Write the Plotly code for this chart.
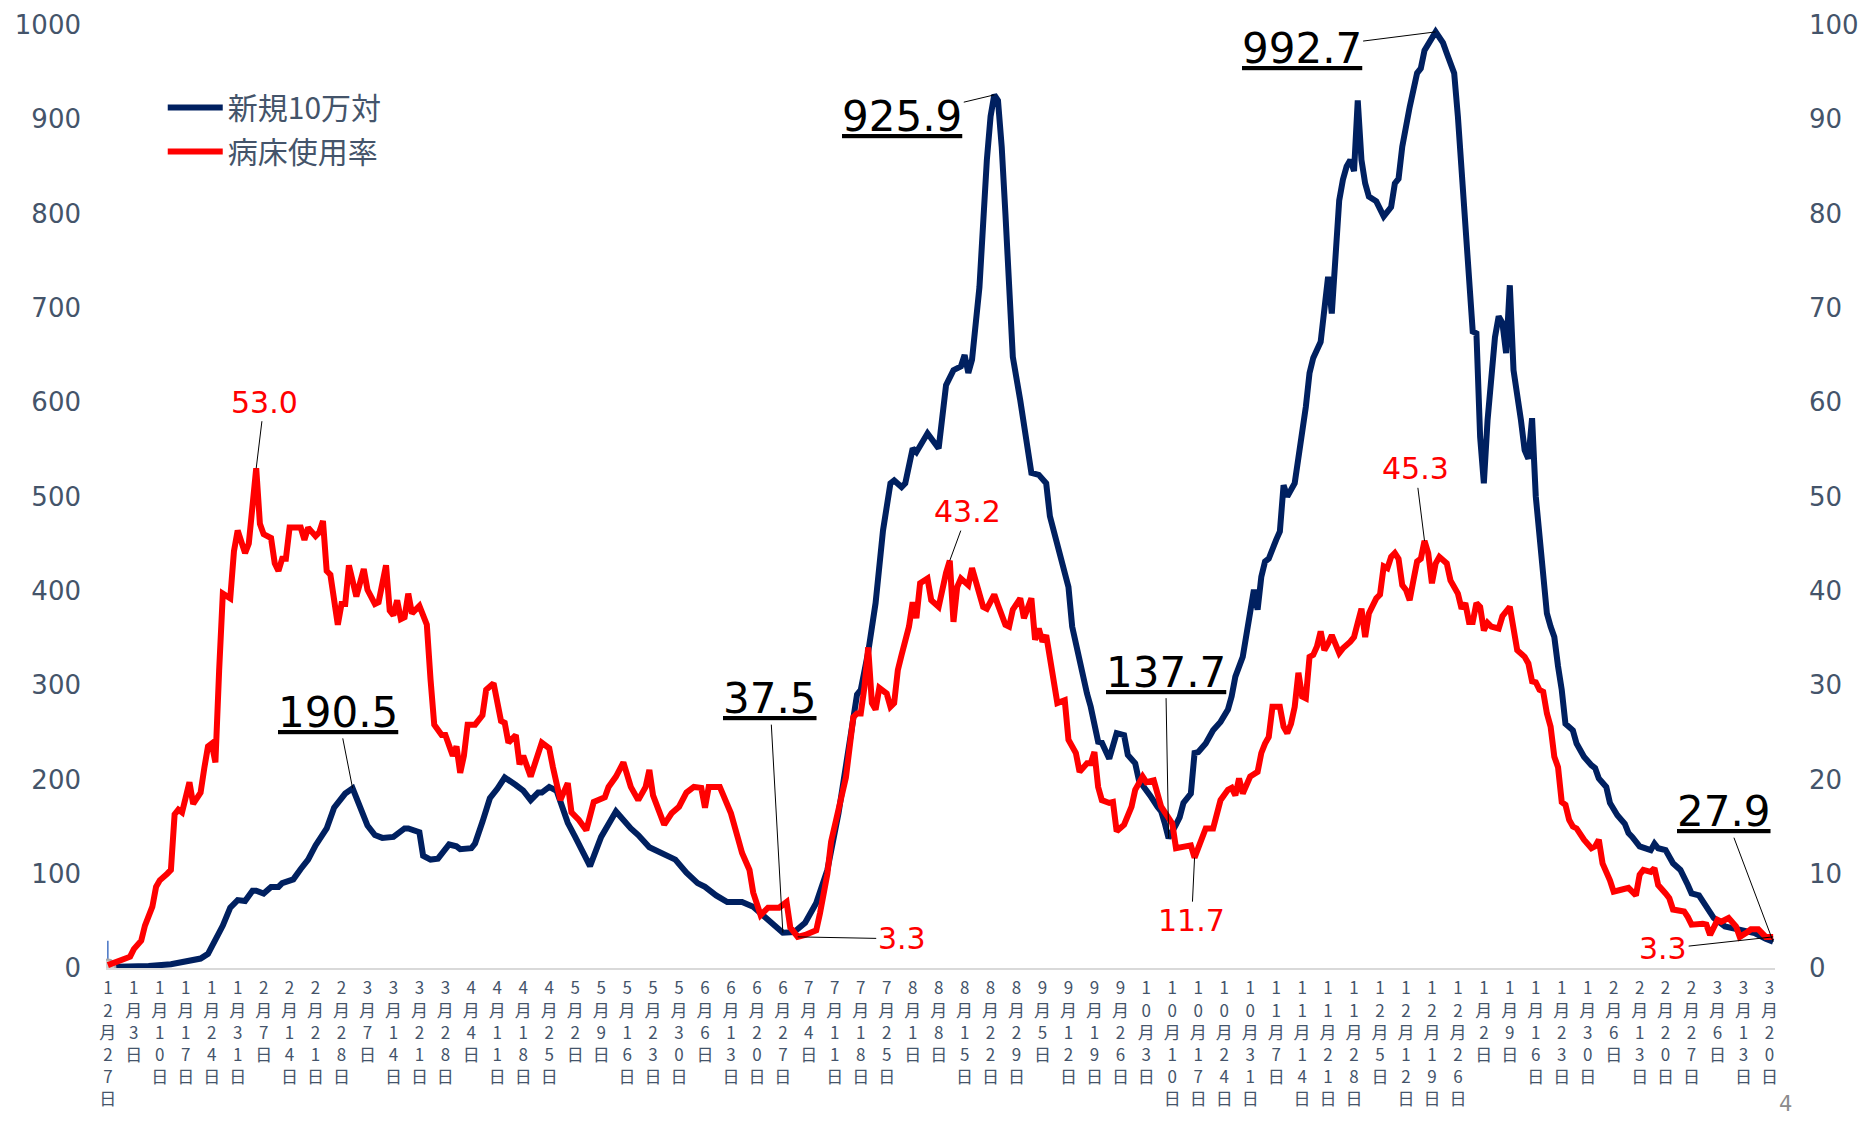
import plotly.graph_objects as go
import pandas as pd

START_DATE = "2021-12-27"

# 新規10万対 (left axis): day offset from START_DATE, value
navy_day = [0, 7, 11, 17, 21, 25, 27, 29, 31, 33, 35, 37, 39, 40, 42, 44, 46, 47, 50, 52,
            54, 56, 58, 59, 61, 64, 66, 68, 70, 72, 74, 77, 80, 81, 84, 85, 87, 89, 90, 92,
            94, 95, 98, 99, 101, 103, 105, 107, 110, 112, 114, 116, 117, 119, 121, 124, 126, 130, 133, 137,
            141, 143, 146, 149, 153, 156, 159, 161, 164, 167, 171, 174, 178, 182, 185, 188, 191, 194, 197, 200,
            202, 203, 205, 207, 208, 209, 211, 212, 214, 215, 217, 218, 221, 224, 226, 227, 228, 230, 231, 232,
            233, 235, 236, 237, 238, 239, 240, 241, 242, 243, 244, 246, 248, 249, 251, 253, 254, 256, 257, 259,
            260, 262, 264, 265, 266, 267, 268, 270, 272, 274, 275, 277, 278, 280, 281, 283, 284, 285, 286, 288,
            289, 290, 292, 293, 294, 296, 298, 300, 302, 303, 304, 306, 307, 308, 309, 310, 311, 312, 313, 315,
            316, 317, 318, 320, 322, 323, 324, 325, 327, 328, 329, 330, 331, 332, 333, 334, 335, 336, 337, 338,
            339, 340, 342, 343, 344, 346, 347, 348, 349, 351, 352, 353, 354, 355, 358, 360, 361, 363, 364, 365,
            367, 368, 369, 370, 371, 372, 374, 375, 376, 377, 378, 379, 381, 382, 383, 384, 385, 386, 387, 388,
            389, 390, 391, 392, 393, 395, 396, 398, 400, 401, 402, 404, 405, 407, 409, 410, 411, 413, 416, 417,
            418, 420, 422, 424, 426, 427, 429, 431, 433, 436, 440, 444, 447, 449]
navy_val = [1, 1, 2, 4, 7.5, 10, 15, 29, 45, 64, 72, 71, 82, 82, 79, 86, 86, 90, 94, 105,
            115, 130, 141, 148, 170, 185, 190.5, 172, 151, 141, 138, 139, 148, 148, 144, 119, 115, 116, 121, 131,
            129, 126, 127, 132, 155, 180, 190, 202, 194, 188, 178, 186, 186, 192, 188, 154, 139, 108, 139, 166,
            148, 141, 128, 122, 115, 101, 90, 86, 77, 70, 70, 65, 51, 37.5, 38, 48, 69, 104, 164, 242,
            290, 295, 335, 387, 433, 464, 514, 517, 510, 514, 551, 547, 567, 551, 618, 625, 634, 638, 650, 631,
            645, 722, 800, 857, 903, 925.9, 920, 871, 800, 722, 648, 602, 547, 525, 523, 514, 479, 447, 433, 404,
            362, 323, 291, 277, 256, 240, 239, 222, 249, 247, 226, 217, 199, 189, 183, 171, 166, 153, 137.7, 152,
            160, 175, 185, 228, 229, 238, 252, 261, 274, 288, 309, 330, 355, 376, 401, 380, 415, 431, 434, 454,
            463, 512, 500, 514, 563, 595, 631, 647, 664, 694, 733, 694, 758, 814, 836, 850, 857, 845, 920, 857,
            832, 818, 813, 804, 797, 807, 832, 837, 871, 913, 934, 949, 954, 973, 992.7, 981, 970, 949, 903, 843,
            715, 675, 673, 563, 514, 581, 669, 691, 684, 652, 724, 634, 581, 549, 540, 583, 500, 454, 418, 376,
            362, 351, 320, 295, 259, 252, 238, 224, 215, 212, 201, 192, 175, 162, 153, 143, 139, 129, 125, 132,
            127, 125, 111, 104, 88, 79, 77, 65, 53, 44, 40, 37, 31, 27.9]

# 病床使用率 (right axis, %): day offset from START_DATE, value
red_day = [0, 3, 6, 7, 9, 10, 12, 13, 14, 16, 17, 18, 19, 20, 22, 23, 25, 26, 27, 28,
           29, 30, 31, 33, 34, 35, 37, 38, 40, 41, 42, 44, 45, 46, 47, 48, 49, 50, 52, 53,
           54, 56, 57, 58, 59, 60, 61, 62, 63, 64, 65, 67, 69, 70, 72, 73, 75, 76, 77, 78,
           79, 80, 81, 82, 84, 85, 86, 87, 88, 90, 91, 93, 94, 95, 96, 97, 99, 101, 102, 104,
           106, 107, 108, 110, 111, 112, 114, 117, 119, 120, 122, 124, 125, 127, 129, 131, 134, 135, 137, 139,
           141, 143, 145, 146, 147, 150, 152, 154, 156, 158, 160, 161, 162, 165, 168, 170, 171, 173, 174, 176,
           178, 181, 183, 184, 186, 188, 191, 192, 194, 195, 197, 199, 201, 202, 203, 204, 205, 206, 207, 208,
           210, 211, 212, 213, 214, 216, 217, 218, 219, 221, 222, 224, 226, 227, 228, 229, 230, 232, 233, 235,
           236, 237, 239, 240, 242, 243, 244, 246, 247, 249, 250, 251, 252, 253, 254, 255, 256, 258, 259, 261,
           262, 264, 265, 266, 267, 268, 270, 271, 272, 274, 276, 277, 279, 280, 282, 284, 285, 287, 288, 290,
           292, 293, 295, 296, 298, 299, 300, 302, 303, 304, 305, 306, 308, 310, 311, 312, 313, 314, 316, 317,
           318, 319, 320, 321, 322, 323, 324, 325, 326, 327, 328, 329, 330, 332, 333, 335, 336, 337, 338, 339,
           340, 342, 343, 344, 345, 346, 347, 348, 349, 350, 351, 352, 353, 354, 355, 356, 357, 358, 359, 361,
           362, 364, 365, 366, 367, 368, 369, 370, 371, 372, 373, 375, 376, 378, 379, 380, 382, 383, 384, 385,
           386, 387, 388, 389, 390, 391, 392, 393, 394, 395, 396, 398, 400, 401, 402, 403, 405, 406, 408, 410,
           412, 413, 414, 416, 417, 418, 420, 421, 422, 425, 426, 427, 430, 431, 432, 434, 435, 437, 439, 440,
           442, 443, 445, 447, 449]
red_val = [0.3, 0.7, 1.2, 2.0, 2.9, 4.5, 6.5, 8.6, 9.3, 10.0, 10.4, 16.3, 16.8, 16.5, 19.7, 17.4, 18.6, 21.2, 23.5, 23.8,
           21.8, 31.5, 39.7, 39.2, 44.2, 46.4, 44.0, 45.0, 53.0, 47.1, 46.0, 45.6, 42.9, 42.1, 43.4, 43.4, 46.7, 46.7, 46.7, 45.4,
           46.7, 45.8, 46.2, 47.4, 42.1, 41.7, 39.2, 36.4, 38.6, 38.6, 42.7, 39.4, 42.3, 40.1, 38.6, 38.8, 42.7, 37.9, 37.4, 39.0,
           37.0, 37.2, 39.7, 37.6, 38.4, 37.2, 36.4, 30.6, 25.8, 24.7, 24.7, 22.5, 23.5, 20.7, 22.5, 25.8, 25.8, 26.8, 29.5, 30.2,
           26.2, 26.0, 23.9, 24.7, 21.6, 22.5, 20.3, 23.9, 23.3, 21.3, 17.8, 19.6, 16.5, 15.7, 14.6, 17.6, 18.1, 19.2, 20.3, 21.8,
           19.2, 17.8, 19.2, 21.0, 18.3, 15.2, 16.4, 17.1, 18.6, 19.2, 19.1, 17.0, 19.2, 19.2, 16.4, 13.6, 12.2, 10.4, 8.0, 5.6,
           6.4, 6.4, 7.0, 4.3, 3.3, 3.5, 4.0, 5.8, 10.0, 13.4, 16.7, 20.2, 26.6, 27.0, 27.0, 29.8, 34.0, 28.1, 27.4, 29.7,
           29.1, 27.7, 28.1, 31.6, 33.2, 36.2, 38.8, 37.1, 40.8, 41.3, 39.0, 38.3, 41.9, 43.2, 36.7, 40.4, 41.3, 40.6, 42.4, 39.7,
           38.3, 38.1, 39.6, 38.5, 36.4, 36.2, 38.0, 39.2, 37.1, 39.2, 34.8, 36.0, 34.6, 35.3, 33.0, 29.8, 28.1, 28.4, 24.2, 22.8,
           20.8, 21.7, 21.7, 22.9, 19.2, 17.8, 17.5, 17.6, 14.5, 15.2, 17.1, 18.9, 20.3, 19.7, 19.9, 17.1, 16.4, 15.3, 12.7, 12.9,
           13.0, 11.7, 13.9, 14.8, 14.8, 16.2, 17.8, 18.9, 19.1, 18.3, 20.1, 18.5, 20.3, 20.8, 22.8, 23.8, 24.5, 27.7, 27.7, 25.6,
           24.9, 25.9, 27.7, 31.3, 28.8, 28.6, 33.0, 33.2, 34.1, 35.7, 33.7, 34.4, 35.3, 33.4, 33.9, 34.6, 35.1, 36.6, 38.1, 35.1,
           37.6, 39.2, 39.6, 42.6, 42.4, 43.6, 44.0, 43.4, 40.6, 40.1, 39.0, 41.1, 43.1, 43.4, 45.3, 44.0, 40.8, 42.9, 43.6, 42.9,
           41.1, 39.7, 38.1, 38.7, 36.7, 36.7, 38.7, 38.3, 35.8, 36.6, 36.2, 36.0, 37.3, 38.3, 35.5, 33.7, 33.0, 32.3, 30.4, 30.3,
           29.5, 29.3, 27.0, 25.6, 22.4, 21.3, 17.6, 17.3, 15.7, 15.0, 14.8, 13.6, 12.7, 12.9, 13.6, 11.1, 9.3, 8.1, 8.3, 8.5,
           7.7, 9.9, 10.4, 10.2, 10.6, 8.8, 7.9, 7.4, 6.2, 6.0, 5.4, 4.6, 4.7, 4.6, 3.5, 5.1, 4.9, 5.3, 4.4, 3.3,
           3.8, 4.1, 4.1, 3.3, 3.3]

tick_labels = ["12月27日", "1月3日", "1月10日", "1月17日", "1月24日", "1月31日", "2月7日", "2月14日",
               "2月21日", "2月28日", "3月7日", "3月14日", "3月21日", "3月28日", "4月4日", "4月11日",
               "4月18日", "4月25日", "5月2日", "5月9日", "5月16日", "5月23日", "5月30日", "6月6日",
               "6月13日", "6月20日", "6月27日", "7月4日", "7月11日", "7月18日", "7月25日", "8月1日",
               "8月8日", "8月15日", "8月22日", "8月29日", "9月5日", "9月12日", "9月19日", "9月26日",
               "10月3日", "10月10日", "10月17日", "10月24日", "10月31日", "11月7日", "11月14日", "11月21日",
               "11月28日", "12月5日", "12月12日", "12月19日", "12月26日", "1月2日", "1月9日", "1月16日",
               "1月23日", "1月30日", "2月6日", "2月13日", "2月20日", "2月27日", "3月6日", "3月13日", "3月20日"]

series_names = ["新規10万対", "病床使用率"]

NAVY = "#002060"
RED = "#FF0000"
SLATE = "#44546A"
NUM_FONT = "DejaVu Sans"
JP_FONT = "Noto Sans CJK JP"

start = pd.Timestamp(START_DATE)
navy_x = list(start + pd.to_timedelta(navy_day, unit="D"))
red_x = list(start + pd.to_timedelta(red_day, unit="D"))
tickvals = [start + pd.Timedelta(days=7 * i) for i in range(len(tick_labels))]
# vertical (stacked) label text: one character per line
ticktext = ["<br>".join(list(s)) for s in tick_labels]

fig = go.Figure()
fig.add_trace(go.Scatter(x=navy_x, y=navy_val, name=series_names[0], mode="lines",
                         line=dict(color=NAVY, width=6), yaxis="y", legendgroup="a"))
fig.add_trace(go.Scatter(x=red_x, y=red_val, name=series_names[1], mode="lines",
                         line=dict(color=RED, width=6), yaxis="y2", legendgroup="b"))
# selected-point marker at the first data point
fig.add_trace(go.Scatter(x=[navy_x[0]], y=[navy_val[0]], mode="markers", showlegend=False,
                         hoverinfo="skip",
                         marker=dict(color="#D0D0D0", size=15, line=dict(color="#A6A6A6", width=2)),
                         error_y=dict(type="data", symmetric=False, array=[28], arrayminus=[0],
                                      color="#4472C4", thickness=1.5, width=0)))

# data labels: (index into that series, ax, ay)
navy_labels = [
    (navy_val.index(190.5), -15, -76),
    (navy_val.index(37.5), -13, -234),
    (navy_val.index(925.9), -92, 22),
    (navy_val.index(137.7), -3, -166),
    (navy_val.index(992.7), -134, 17),
    (len(navy_val) - 1, -49, -130),
]
red_labels = [
    (red_val.index(53.0), 8, -66),
    (red_val.index(3.3), 104, 2),
    (red_val.index(43.2), 18, -49),
    (red_val.index(11.7), -3, 63),
    (red_val.index(45.3), -9, -72),
    (len(red_val) - 1, -110, 12),
]

annotations = []
for i, ax, ay in navy_labels:
    annotations.append(dict(x=navy_x[i], y=navy_val[i], xref="x", yref="y",
                            text="<u>%.1f</u>" % navy_val[i], showarrow=True, arrowhead=0,
                            arrowwidth=1, arrowcolor="#000000", ax=ax, ay=ay, standoff=0,
                            font=dict(family=NUM_FONT, size=42, color="#000000")))
for i, ax, ay in red_labels:
    annotations.append(dict(x=red_x[i], y=red_val[i], xref="x", yref="y2",
                            text="%.1f" % red_val[i], showarrow=True, arrowhead=0,
                            arrowwidth=1, arrowcolor="#000000", ax=ax, ay=ay, standoff=0,
                            font=dict(family=NUM_FONT, size=30, color=RED)))
annotations.append(dict(x=1.0065, y=-0.159, xref="paper", yref="paper", text="4", showarrow=False,
                        xanchor="center", yanchor="bottom",
                        font=dict(family=NUM_FONT, size=21, color="#8C8C8C")))

fig.update_layout(
    template="none",
    width=1858, height=1121,
    margin=dict(l=106, r=83, t=25, b=153, autoexpand=False),
    paper_bgcolor="white", plot_bgcolor="white",
    font=dict(family=NUM_FONT, color=SLATE),
    showlegend=True,
    legend=dict(x=0.034, y=0.94, xanchor="left", yanchor="top",
                font=dict(family=JP_FONT, size=30, color=SLATE),
                bgcolor="rgba(0,0,0,0)", borderwidth=0, itemwidth=55, tracegroupgap=2),
    xaxis=dict(type="date", automargin=False,
               range=[start - pd.Timedelta(hours=12), start + pd.Timedelta(days=449, hours=12)],
               tickmode="array", tickvals=tickvals, ticktext=ticktext, tickangle=0,
               ticks="", showgrid=False, zeroline=False,
               showline=True, linecolor="#D9D9D9", linewidth=2,
               tickfont=dict(family=JP_FONT, size=17, color=SLATE), ticklabelstandoff=4),
    yaxis=dict(range=[0, 1000], dtick=100, tick0=0, showgrid=False, zeroline=False, automargin=False,
               showline=False, ticks="", tickfont=dict(family=NUM_FONT, size=26, color=SLATE),
               ticklabelstandoff=24),
    yaxis2=dict(range=[0, 100], dtick=10, tick0=0, overlaying="y", side="right", automargin=False,
                showgrid=False, zeroline=False, showline=False, ticks="",
                tickfont=dict(family=NUM_FONT, size=26, color=SLATE), ticklabelstandoff=33),
    annotations=annotations,
)

fig.write_html("out.html", config={"displayModeBar": False},
               post_script="document.body.style.margin='0';document.body.style.overflow='hidden';")
